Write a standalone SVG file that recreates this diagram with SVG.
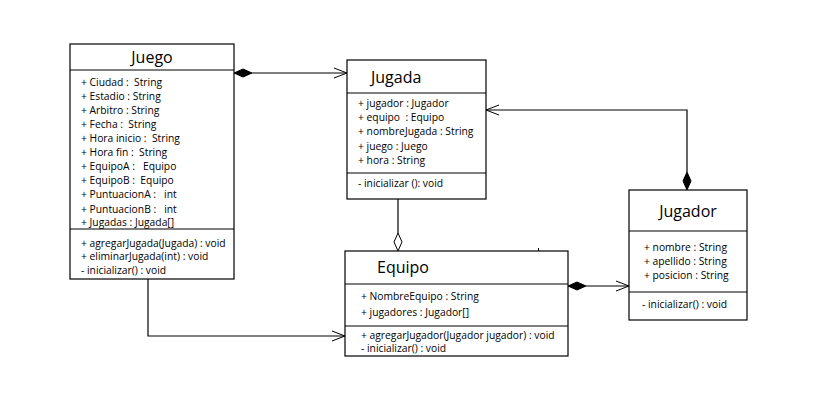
<svg xmlns="http://www.w3.org/2000/svg" width="814" height="411" viewBox="0 0 814 411">
  <style>
    .box { fill: #ffffff; stroke: #000000; stroke-width: 1.2; }
    .sep { stroke: #000000; stroke-width: 1.2; }
    text { white-space: pre; }
    .title { font-family: "Open Sans", "Noto Sans", sans-serif; font-size: 16px; fill: #000; }
    .txt { font-family: "Open Sans", "Noto Sans", sans-serif; font-size: 10.3px; fill: #000; }
    .edge { fill: none; stroke: #000000; stroke-width: 1.2; }
    .open { fill: none; stroke: #000000; stroke-width: 1; }
    .dfill { fill: #000000; stroke: #000000; stroke-width: 1; }
    .dhollow { fill: #ffffff; stroke: #000000; stroke-width: 1; }
  </style>
  <rect width="814" height="411" fill="#ffffff"/>

  <!-- connectors -->
  <g id="connectors">
    <!-- Juego to Jugada (composition) -->
    <line class="edge" x1="252" y1="73" x2="347" y2="73"/>
    <polygon class="dfill" points="234,73 243,69 252,73 243,77"/>
    <polyline class="open" points="334,68 347,73 334,78"/>

    <!-- Jugador to Jugada (composition) -->
    <polyline class="edge" points="687,172 687,110 486,110"/>
    <polygon class="dfill" points="687,190 683,181 687,172 691,181"/>
    <polyline class="open" points="499,105 486,110 499,115"/>

    <!-- Jugada to Equipo (aggregation) -->
    <line class="edge" x1="398" y1="199" x2="398" y2="233"/>
    <polygon class="dhollow" points="398,251 394,242 398,233 402,242"/>

    <!-- Equipo to Jugador (composition) -->
    <line class="edge" x1="586" y1="286" x2="629" y2="286"/>
    <polygon class="dfill" points="568,286 577,282 586,286 577,290"/>
    <polyline class="open" points="616,281 629,286 616,291"/>

    <!-- Juego to Equipo -->
    <polyline class="edge" points="148,279 148,336 345,336"/>
    <polyline class="open" points="332,331 345,336 332,341"/>

    <line x1="538.5" y1="248" x2="538.5" y2="251" stroke="#000" stroke-width="1"/>
  </g>

  <!-- Juego -->
  <g id="juego">
    <rect class="box" x="70" y="44" width="164" height="235"/>
    <line class="sep" x1="70" y1="70" x2="234" y2="70"/>
    <line class="sep" x1="70" y1="229" x2="234" y2="229"/>
    <text class="title" x="152" y="63" text-anchor="middle">Juego</text>
    <text class="txt" x="81" y="86">+ Ciudad :  String</text>
    <text class="txt" x="81" y="100">+ Estadio : String</text>
    <text class="txt" x="81" y="114">+ Arbitro : String</text>
    <text class="txt" x="81" y="128">+ Fecha :  String</text>
    <text class="txt" x="81" y="142">+ Hora inicio :  String</text>
    <text class="txt" x="81" y="156">+ Hora fin :  String</text>
    <text class="txt" x="81" y="170">+ EquipoA :   Equipo</text>
    <text class="txt" x="81" y="184">+ EquipoB :  Equipo</text>
    <text class="txt" x="81" y="198">+ PuntuacionA :   int</text>
    <text class="txt" x="81" y="213">+ PuntuacionB :   int</text>
    <text class="txt" x="81" y="226">+ Jugadas : Jugada[]</text>
    <text class="txt" x="81" y="247">+ agregarJugada(Jugada) : void</text>
    <text class="txt" x="81" y="260">+ eliminarJugada(int) : void</text>
    <text class="txt" x="81" y="274">- inicializar() : void</text>
  </g>

  <!-- Jugada -->
  <g id="jugada">
    <rect class="box" x="347" y="60" width="139" height="139"/>
    <line class="sep" x1="347" y1="93" x2="486" y2="93"/>
    <line class="sep" x1="347" y1="173" x2="486" y2="173"/>
    <text class="title" x="371" y="83">Jugada</text>
    <text class="txt" x="358" y="107">+ jugador : Jugador</text>
    <text class="txt" x="358" y="121">+ equipo  : Equipo</text>
    <text class="txt" x="358" y="135">+ nombreJugada : String</text>
    <text class="txt" x="358" y="150">+ juego : Juego</text>
    <text class="txt" x="358" y="164">+ hora : String</text>
    <text class="txt" x="358" y="187">- inicializar (): void</text>
  </g>

  <!-- Equipo -->
  <g id="equipo">
    <rect class="box" x="345" y="251" width="223" height="105"/>
    <line class="sep" x1="345" y1="284" x2="568" y2="284"/>
    <line class="sep" x1="345" y1="326" x2="568" y2="326"/>
    <text class="title" x="377" y="273">Equipo</text>
    <text class="txt" x="361" y="300">+ NombreEquipo : String</text>
    <text class="txt" x="361" y="316">+ jugadores : Jugador[]</text>
    <text class="txt" x="361" y="339">+ agregarJugador(Jugador jugador) : void</text>
    <text class="txt" x="361" y="352">- inicializar() : void</text>
  </g>

  <!-- Jugador -->
  <g id="jugador">
    <rect class="box" x="629" y="190" width="118" height="130"/>
    <line class="sep" x1="629" y1="231" x2="747" y2="231"/>
    <line class="sep" x1="629" y1="292" x2="747" y2="292"/>
    <text class="title" x="688" y="217" text-anchor="middle">Jugador</text>
    <text class="txt" x="644" y="251">+ nombre : String</text>
    <text class="txt" x="644" y="265">+ apellido : String</text>
    <text class="txt" x="644" y="279">+ posicion : String</text>
    <text class="txt" x="642" y="308">- inicializar() : void</text>
  </g>
</svg>
